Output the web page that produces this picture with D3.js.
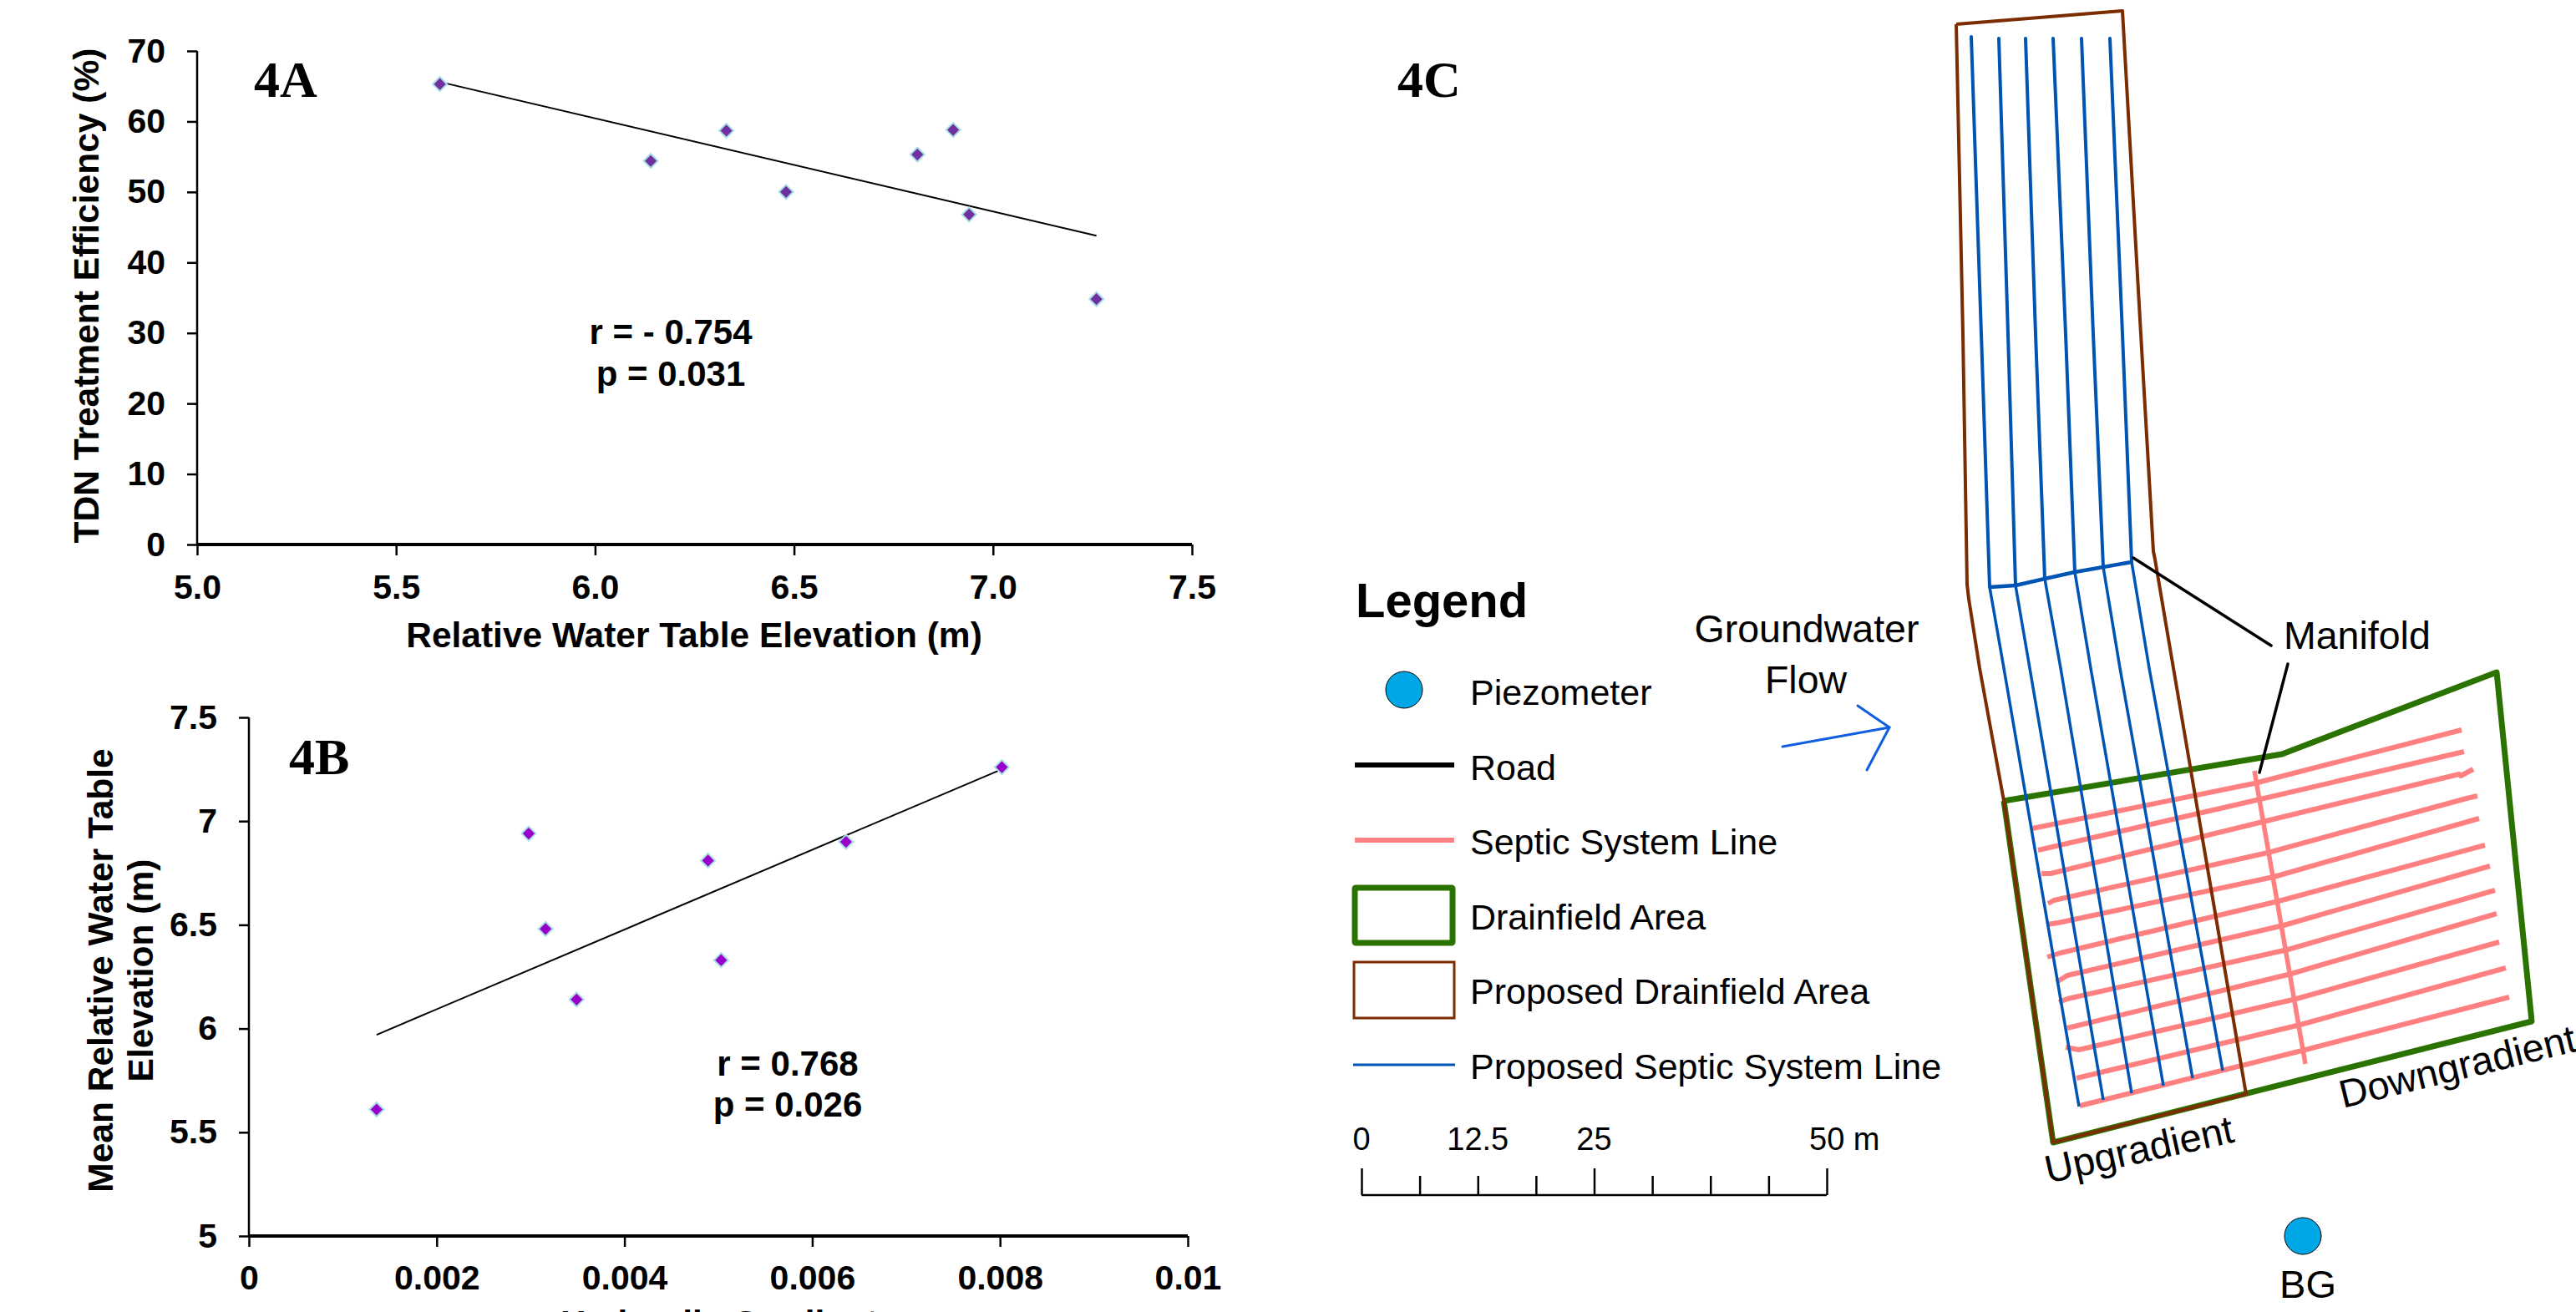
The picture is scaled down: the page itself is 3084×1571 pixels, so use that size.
<!DOCTYPE html>
<html>
<head>
<meta charset="utf-8">
<script src="https://cdn.jsdelivr.net/npm/d3@7"></script>
<style>
  html, body { margin: 0; padding: 0; background: #fff; overflow: hidden; }
  svg { display: block; }
  text { font-family: "Liberation Sans", Arial, sans-serif; fill: #000; }
  .tick-label, .plot-title, .stat { font-weight: bold; }
  .panel { font-family: "Liberation Serif", "Times New Roman", serif; font-weight: bold; font-size: 62px; }
</style>
</head>
<body>
<div id="app"></div>
<script>
// 4A values
const elevationA = [5.61, 6.14, 6.33, 6.48, 6.81, 6.90, 6.94, 7.26];
const efficiencyA = [65.3, 54.4, 58.7, 50.0, 55.3, 58.8, 46.8, 34.8];
const trendAx = [5.61, 7.26];
const trendAy = [65.6, 43.8];
const ticksAx = [5.0, 5.5, 6.0, 6.5, 7.0, 7.5];
const ticksAy = [0, 10, 20, 30, 40, 50, 60, 70];

// 4B values
const gradientB = [0.00136, 0.00298, 0.00316, 0.00349, 0.00489, 0.00503, 0.00636, 0.00802];
const elevationB = [5.61, 6.94, 6.48, 6.14, 6.81, 6.33, 6.90, 7.26];
const trendBx = [0.00136, 0.00802];
const trendBy = [5.97, 7.25];
const ticksBx = [0, 0.002, 0.004, 0.006, 0.008, 0.01];
const ticksBy = [5, 5.5, 6, 6.5, 7, 7.5];

// 4C site plan, in survey grid units (grid origin is the top left of the plan)
const drainfieldArea = [[59, 959], [392, 903], [649, 805], [691, 1223], [118, 1368]];
const proposedArea = [[2, 29], [201, 13], [223, 400], [238, 660], [240, 670], [262, 800],
  [349, 1310], [118, 1368], [59, 959], [30, 800], [17, 717], [15, 700], [10, 400]];
const proposedManifold = [[42, 703], [73, 701], [108, 693], [144, 685], [178, 679], [212, 673]];
const proposedLinesUpper = [
  [[20, 44], [32, 400], [42, 703]],
  [[53, 46], [64, 400], [73, 701]],
  [[85, 46], [97, 400], [108, 693]],
  [[118, 46], [133, 400], [144, 685]],
  [[152, 46], [166, 400], [178, 679]],
  [[186, 46], [201, 400], [212, 673]]
];
const proposedLinesLower = [
  [[42, 703], [59, 800], [149, 1325]],
  [[73, 701], [90, 800], [178, 1317]],
  [[108, 693], [127, 800], [212, 1309]],
  [[144, 685], [163, 800], [250, 1300]],
  [[178, 679], [198, 800], [285, 1291]],
  [[212, 673], [233, 800], [321, 1282]]
];
const septicManifold = [[359, 923], [420, 1274]];
const septicLines = [
  [[93, 992], [359, 938], [607, 874]],
  [[100, 1018], [366, 957], [610, 900]],
  [[104, 1046], [115, 1046], [369, 984], [604, 927], [606, 929], [621, 921]],
  [[112, 1082], [119, 1078], [375, 1021], [613, 956], [626, 953]],
  [[110, 1107], [124, 1105], [382, 1050], [628, 980]],
  [[111, 1146], [127, 1141], [388, 1079], [635, 1012]],
  [[122, 1176], [135, 1168], [394, 1108], [641, 1037]],
  [[125, 1200], [135, 1196], [399, 1137], [647, 1066]],
  [[135, 1231], [403, 1166], [649, 1094]],
  [[133, 1254], [149, 1257], [409, 1196], [652, 1128]],
  [[146, 1291], [414, 1227], [660, 1159]],
  [[150, 1324], [420, 1257], [664, 1194]]
];
const manifoldLeaders = [
  [[214, 668], [379, 773]],
  [[399, 795], [365, 925]]
];
const flowArrow = [[[-206, 894], [-78, 871]], [[-116, 845], [-78, 871], [-105, 922]]];
const piezometerBG = [417, 1480];

// legend
const legendLabels = ['Piezometer', 'Road', 'Septic System Line', 'Drainfield Area',
  'Proposed Drainfield Area', 'Proposed Septic System Line'];
const scaleTicks = [0, 6.25, 12.5, 18.75, 25, 31.25, 37.5, 43.75, 50];
const scaleLabels = [0, 12.5, 25];

const width = 3084;
const height = 1571;

const colorPurpleA = '#7030a0';
const colorPurpleB = '#9900cc';
const colorGreen = '#2b7300';
const colorBrown = '#7b2c00';
const colorBlue = '#0054b4';
const colorPink = '#ff8080';
const colorPiezo = '#00a7e6';

const svg = d3.select('#app')
  .append('svg')
  .attr('width', width)
  .attr('height', height);

svg.append('rect')
  .attr('width', width)
  .attr('height', height)
  .attr('fill', '#fff');

function buildScatter(opts) {
  const x = d3.scaleLinear().domain(opts.xDomain).range(opts.xRange);
  const y = d3.scaleLinear().domain(opts.yDomain).range(opts.yRange);
  const plot = svg.append('g').attr('id', opts.id);

  // axes, tick labels are placed by hand because they sit far from the line
  const yAxis = plot.append('g')
    .attr('transform', `translate(${opts.xRange[0]}, 0)`)
    .call(d3.axisLeft(y).tickValues(opts.yTicks).tickSize(12).tickFormat(opts.yFormat));
  yAxis.select('.domain').attr('stroke-width', 2.5).attr('d', `M0,${opts.yRange[0]}V${opts.yRange[1]}`);
  yAxis.selectAll('line').attr('stroke-width', 2.5);
  yAxis.selectAll('text')
    .attr('class', 'tick-label')
    .attr('x', opts.yLabelX - opts.xRange[0])
    .style('font-size', '41px');

  const xAxis = plot.append('g')
    .attr('transform', `translate(0, ${opts.yRange[0]})`)
    .call(d3.axisBottom(x).tickValues(opts.xTicks).tickSize(13).tickFormat(opts.xFormat));
  xAxis.select('.domain').attr('stroke-width', 4).attr('d', `M${opts.xRange[0]},0H${opts.xRange[1]}`);
  xAxis.selectAll('line').attr('stroke-width', 2.5);
  xAxis.selectAll('text')
    .attr('class', 'tick-label')
    .attr('dy', 0)
    .attr('y', opts.xLabelY - opts.yRange[0])
    .style('font-size', '41px');

  // trend line
  const line = d3.line().x(d => x(d[0])).y(d => y(d[1]));
  plot.append('path')
    .attr('d', line(d3.zip(opts.trendX, opts.trendY)))
    .attr('fill', 'none')
    .attr('stroke', '#000')
    .attr('stroke-width', 2);

  // diamonds, a square turned on its corner (d3's own diamond is too thin)
  const diamond = d3.symbol().type(d3.symbolSquare).size(144);
  plot.selectAll('.point')
    .data(d3.zip(opts.xValues, opts.yValues))
    .join('path')
    .attr('class', 'point')
    .attr('d', diamond)
    .attr('transform', d => `translate(${x(d[0])}, ${y(d[1])}) rotate(45)`)
    .attr('fill', opts.color)
    .attr('stroke', '#a8dde4')
    .attr('stroke-width', 2);

  plot.append('text')
    .attr('class', 'panel')
    .attr('x', opts.panel.x)
    .attr('y', opts.panel.y)
    .text(opts.panel.text);

  opts.stats.forEach(s => {
    plot.append('text')
      .attr('class', 'stat')
      .attr('x', s.x)
      .attr('y', s.y)
      .attr('text-anchor', 'middle')
      .style('font-size', '42px')
      .text(s.text);
  });
}

buildScatter({
  id: 'plot-4a',
  xDomain: [5, 7.5], xRange: [236, 1427],
  yDomain: [0, 70], yRange: [652, 61],
  xTicks: ticksAx, yTicks: ticksAy,
  xFormat: d3.format('.1f'), yFormat: d3.format('d'),
  yLabelX: 198, xLabelY: 717,
  xValues: elevationA, yValues: efficiencyA,
  trendX: trendAx, trendY: trendAy,
  color: colorPurpleA,
  panel: {x: 304, y: 116, text: '4A'},
  stats: [{x: 803, y: 412, text: 'r = - 0.754'}, {x: 803, y: 462, text: 'p = 0.031'}]
});

buildScatter({
  id: 'plot-4b',
  xDomain: [0, 0.01], xRange: [298, 1422],
  yDomain: [5, 7.5], yRange: [1480, 859],
  xTicks: ticksBx, yTicks: ticksBy,
  xFormat: d => d, yFormat: d => d,
  yLabelX: 260, xLabelY: 1544,
  xValues: gradientB, yValues: elevationB,
  trendX: trendBx, trendY: trendBy,
  color: colorPurpleB,
  panel: {x: 346, y: 927, text: '4B'},
  stats: [{x: 943, y: 1288, text: 'r = 0.768'}, {x: 943, y: 1337, text: 'p = 0.026'}]
});

// axis titles
function axisTitle(x, y, text, rotate) {
  svg.append('text')
    .attr('class', 'plot-title')
    .attr('text-anchor', 'middle')
    .attr('transform', `translate(${x}, ${y})` + (rotate ? ' rotate(-90)' : ''))
    .style('font-size', '42.5px')
    .text(text);
}
axisTitle(831, 775, 'Relative Water Table Elevation (m)', false);
axisTitle(118, 354, 'TDN Treatment Efficiency (%)', true);
axisTitle(135, 1162, 'Mean Relative Water Table', true);
axisTitle(183, 1162, 'Elevation (m)', true);
axisTitle(861, 1599, 'Hydraulic Gradient', false);

svg.append('text')
  .attr('class', 'panel')
  .attr('x', 1673)
  .attr('y', 116)
  .text('4C');

// site plan
const gridX = d3.scaleLinear().domain([0, 744]).range([2340, 3084]);
const gridY = d3.scaleLinear().domain([0, 1571]).range([0, 1571]);
const gridLine = d3.line().x(d => gridX(d[0])).y(d => gridY(d[1]));
const map = svg.append('g').attr('id', 'site-plan');

function drawLines(lines, color, w, cap) {
  map.append('g')
    .selectAll('path')
    .data(lines)
    .join('path')
    .attr('d', gridLine)
    .attr('fill', 'none')
    .attr('stroke', color)
    .attr('stroke-width', w)
    .attr('stroke-linecap', cap || 'butt')
    .attr('stroke-linejoin', 'round');
}

drawLines([septicManifold], colorPink, 5.5);
drawLines(septicLines, colorPink, 6);
drawLines([drainfieldArea.concat([drainfieldArea[0]])], colorGreen, 7);
drawLines([proposedArea.concat([proposedArea[0]])], colorBrown, 4);
drawLines(proposedLinesUpper, colorBlue, 4, 'round');
drawLines(proposedLinesLower, colorBlue, 3.5);
drawLines([proposedManifold], colorBlue, 4.5);
drawLines(manifoldLeaders, '#000', 3.5, 'round');
drawLines(flowArrow, '#0f5fe0', 3, 'round');

map.append('circle')
  .attr('cx', gridX(piezometerBG[0]))
  .attr('cy', gridY(piezometerBG[1]))
  .attr('r', 22)
  .attr('fill', colorPiezo)
  .attr('stroke', '#000')
  .attr('stroke-width', 1);

function mapLabel(x, y, text, anchor, size, rotate) {
  svg.append('text')
    .attr('transform', `translate(${x}, ${y})` + (rotate ? ` rotate(${rotate})` : ''))
    .attr('text-anchor', anchor || 'start')
    .style('font-size', `${size || 43}px`)
    .text(text);
}
mapLabel(2763, 1554, 'BG', 'middle', 47);
mapLabel(2452, 1417, 'Upgradient', 'start', 47, -12.5);
mapLabel(2805, 1327, 'Downgradient', 'start', 47, -13.7);
mapLabel(2734, 777, 'Manifold', 'start', 46.5);
mapLabel(2163, 769, 'Groundwater', 'middle', 46.5);
mapLabel(2162, 830, 'Flow', 'middle', 46.5);

// legend
const legend = svg.append('g').attr('id', 'legend');
legend.append('text')
  .attr('x', 1623)
  .attr('y', 739)
  .style('font-size', '58px')
  .style('font-weight', 'bold')
  .text('Legend');

const legendY = d3.scalePoint().domain(legendLabels).range([844, 1292]);
legend.selectAll('.legend-label')
  .data(legendLabels)
  .join('text')
  .attr('class', 'legend-label')
  .attr('x', 1760)
  .attr('y', d => legendY(d))
  .style('font-size', '43px')
  .text(d => d);

legend.append('circle')
  .attr('cx', 1681).attr('cy', 826).attr('r', 22)
  .attr('fill', colorPiezo).attr('stroke', '#000').attr('stroke-width', 1);
legend.append('line')
  .attr('x1', 1622).attr('x2', 1741).attr('y1', 916).attr('y2', 916)
  .attr('stroke', '#000').attr('stroke-width', 6);
legend.append('line')
  .attr('x1', 1622).attr('x2', 1741).attr('y1', 1006).attr('y2', 1006)
  .attr('stroke', colorPink).attr('stroke-width', 6);
legend.append('rect')
  .attr('x', 1622).attr('y', 1063).attr('width', 117).attr('height', 66)
  .attr('fill', 'none').attr('stroke', colorGreen).attr('stroke-width', 7).attr('rx', 1);
legend.append('rect')
  .attr('x', 1621).attr('y', 1152).attr('width', 120).attr('height', 67)
  .attr('fill', 'none').attr('stroke', colorBrown).attr('stroke-width', 3);
legend.append('line')
  .attr('x1', 1620).attr('x2', 1742).attr('y1', 1275).attr('y2', 1275)
  .attr('stroke', colorBlue).attr('stroke-width', 3);

// scale bar
const scaleX = d3.scaleLinear().domain([0, 50]).range([1630, 2187]);
const scaleBar = svg.append('g')
  .attr('id', 'scale-bar')
  .attr('transform', 'translate(0, 1431)')
  .call(d3.axisTop(scaleX).tickValues(scaleTicks).tickSize(23).tickFormat(''));
scaleBar.select('.domain').attr('stroke-width', 2.5).attr('d', 'M1630,0H2187');
scaleBar.selectAll('line')
  .attr('stroke-width', 2.5)
  .attr('y2', d => (d % 25 === 0 ? -32 : -23));
scaleLabels.forEach(d => {
  svg.append('text')
    .attr('x', scaleX(d))
    .attr('y', 1377)
    .attr('text-anchor', 'middle')
    .style('font-size', '38px')
    .text(d);
});
svg.append('text')
  .attr('x', 2166)
  .attr('y', 1377)
  .style('font-size', '38px')
  .text('50 m');
</script>
</body>
</html>
